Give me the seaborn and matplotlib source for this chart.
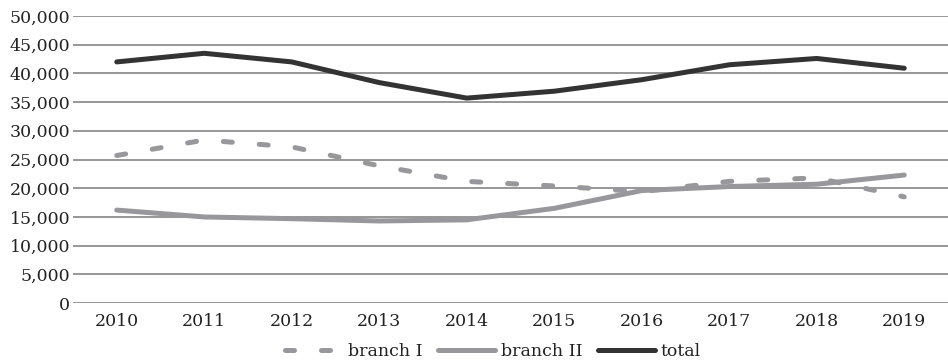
import matplotlib
matplotlib.use("Agg")
import matplotlib.pyplot as plt
import seaborn as sns
import pandas as pd

years = [2010, 2011, 2012, 2013, 2014, 2015, 2016, 2017, 2018, 2019]
branch_1 = [25700, 28400, 27200, 23900, 21200, 20400, 19400, 21200, 21800, 18500]
branch_2 = [16200, 15000, 14700, 14300, 14500, 16500, 19600, 20300, 20700, 22300]
total = [42000, 43500, 42000, 38400, 35700, 36900, 38900, 41500, 42600, 40900]
series_names = ["branch I", "branch II", "total"]
y_ticks = list(range(0, 50001, 5000))

df = pd.DataFrame({
    "year": years * 3,
    "value": branch_1 + branch_2 + total,
    "series": [series_names[0]] * len(years)
    + [series_names[1]] * len(years)
    + [series_names[2]] * len(years),
})

sns.set_theme(style="white")
plt.rcParams["font.family"] = ["DejaVu Serif"]
plt.rcParams["font.size"] = 12.5

fig = plt.figure(figsize=(9.48, 3.63), dpi=100)
ax = fig.add_axes([0.077, 0.165, 0.923, 0.791])

palette = {"branch I": "#98989c", "branch II": "#98989c", "total": "#333333"}
dashes = {"branch I": (1.8, 5.4), "branch II": "", "total": ""}

sns.lineplot(
    data=df, x="year", y="value", hue="series", style="series",
    palette=palette, dashes=dashes, linewidth=3.6, ax=ax,
    hue_order=series_names, style_order=series_names,
)
for ln in ax.get_lines():
    ln.set_solid_capstyle("round")
    ln.set_dash_capstyle("round")
    ln.set_solid_joinstyle("round")

ax.set_xlim(years[0] - 0.5, years[-1] + 0.5)
ax.set_ylim(0, 50000)
ax.set_xticks(years)
ax.set_xticklabels([str(y) for y in years])
ax.set_yticks(y_ticks)
ax.set_yticklabels([f"{v:,}" for v in y_ticks])
ax.yaxis.grid(True, color="#858585", linewidth=1.2)
ax.set_axisbelow(True)
for s in ax.spines.values():
    s.set_visible(False)
ax.tick_params(axis="both", length=0, labelsize=12.5, colors="#222222")
ax.tick_params(axis="y", pad=2)
ax.tick_params(axis="x", pad=7)
ax.set_xlabel("")
ax.set_ylabel("")

leg = ax.legend(
    loc="upper center", bbox_to_anchor=(0.48, -0.115), ncol=3, frameon=False,
    handlelength=3.3, handletextpad=0.3, columnspacing=0.9, fontsize=12.5,
    borderaxespad=0,
)
for t in leg.get_texts():
    t.set_color("#222222")
for h in leg.get_lines():
    h.set_solid_capstyle("round")
    h.set_dash_capstyle("round")

fig.savefig("out.png", dpi=100)
